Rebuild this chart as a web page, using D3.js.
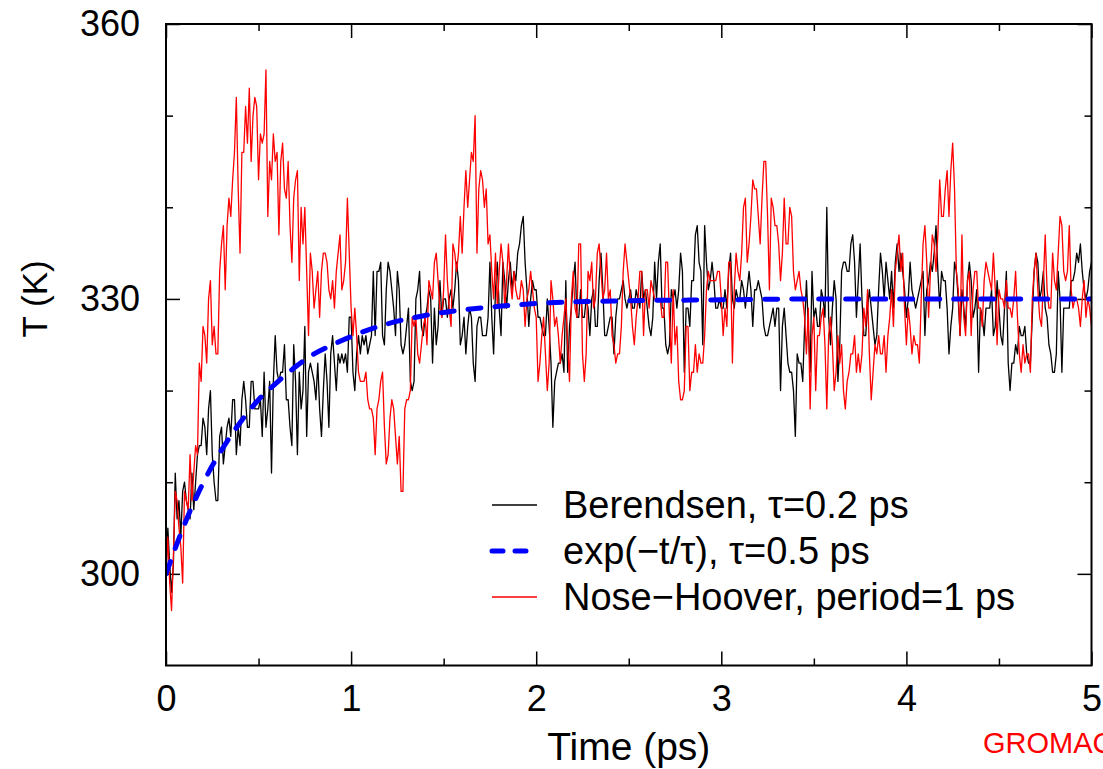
<!DOCTYPE html>
<html>
<head>
<meta charset="utf-8">
<script src="https://cdn.jsdelivr.net/npm/d3@7"></script>
<style>
  body { margin: 0; background: #fff; }
  svg text { font-family: "Liberation Sans", Arial, Helvetica, sans-serif; fill: #000; }
</style>
</head>
<body>
<div id="chart"></div>
<script>
// Temperature traces, one sample every 0.01 ps
var dt = 0.01;

var berendsen = [
    300,305,301,298,301,311,306,308,304,309,
    310,308,307,306,311,307,310,313,314,314,
    317,316,313,318,320,313,310,308,308,315,
    316,312,314,316,317,315,319,319,313,316,
    314,319,321,319,316,316,321,321,318,318,
    318,319,315,322,316,318,321,311,321,326,
    322,321,322,322,325,319,319,316,314,325,
    321,313,322,318,320,327,315,322,323,322,
    321,319,323,318,315,320,324,321,316,324,
    326,323,320,324,323,324,323,324,322,328,
    328,322,320,324,326,324,326,325,326,324,
    325,326,333,326,333,333,334,326,325,331,
    334,333,331,329,326,333,331,325,324,325,
    327,329,321,320,321,330,331,333,327,326,
    328,329,331,330,323,329,325,327,332,328,
    330,330,328,330,331,329,331,334,332,325,
    326,328,324,327,329,328,323,321,327,328,
    328,326,326,326,328,334,328,324,331,334,
    329,326,334,332,329,332,334,331,333,332,
    335,336,338,339,334,331,327,330,332,331,
    331,328,328,327,326,326,330,327,323,316,
    321,322,323,323,324,322,332,322,327,329,
    332,334,328,328,331,328,328,330,329,326,
    330,331,327,327,332,335,331,326,326,327,
    328,328,324,328,330,330,331,332,330,329,
    330,331,329,329,331,330,329,333,330,331,
    329,327,326,328,334,330,334,336,329,329,
    325,324,325,331,330,331,329,331,335,333,
    322,329,329,327,332,332,337,338,334,333,
    325,338,334,331,332,334,332,329,329,330,
    329,329,331,329,333,335,330,329,331,330,
    330,332,331,329,331,333,331,327,331,331,
    332,331,330,327,326,326,327,328,329,327,
    329,329,320,327,329,326,323,322,322,320,
    315,324,323,323,321,327,332,327,322,333,
    328,329,327,327,331,330,328,340,328,325,
    329,332,330,321,325,333,334,334,333,333,
    336,337,334,328,332,336,330,326,326,329,
    331,329,327,325,326,331,335,333,330,334,
    332,330,333,329,334,336,333,335,333,331,
    328,330,334,331,330,329,330,331,332,333,
    326,331,332,334,333,335,338,333,329,333,
    332,332,329,324,327,329,334,333,330,326,
    331,329,327,332,334,332,328,329,331,322,
    329,328,326,329,329,329,331,326,327,332,
    329,326,325,329,333,323,320,323,323,325,
    324,327,326,326,327,324,323,323,328,333,
    335,334,330,331,333,329,328,325,324,322,
    322,324,333,330,322,329,329,329,329,332,
    332,333,335,334,336,333,331,330,331,333,
    334
];

var noseHoover = [
    300,304,299,296,302,309,308,305,303,299,
    309,308,307,313,308,311,314,313,323,321,
    327,326,323,330,332,325,327,324,324,333,
    336,338,331,338,341,339,343,346,352,342,
    335,346,346,351,347,353,345,350,352,351,
    343,348,347,348,355,339,345,343,348,345,
    346,337,345,347,342,341,345,338,334,341,
    343,344,332,340,336,340,333,326,335,333,
    329,331,333,328,333,335,335,334,331,330,
    332,329,333,335,337,331,332,334,341,335,
    329,326,329,326,322,321,321,321,322,319,
    318,318,317,313,318,319,321,322,316,312,
    313,317,319,318,315,312,315,309,309,318,
    319,319,320,328,327,328,324,323,325,327,
    328,325,332,331,330,334,335,332,329,328,
    331,337,332,329,327,336,335,333,335,339,
    335,340,344,340,343,346,345,350,335,342,
    344,343,340,342,336,337,333,330,335,329,
    333,336,334,329,332,336,332,330,333,331,
    330,330,332,331,327,330,331,333,331,329,
    328,321,323,326,328,324,320,323,332,330,
    327,328,326,323,326,328,330,325,321,330,
    333,329,328,336,336,324,321,324,333,332,
    334,329,330,335,336,333,330,331,335,330,
    331,326,325,323,324,324,327,333,336,334,
    332,330,327,325,328,330,333,333,326,331,
    331,329,332,331,330,330,330,330,328,328,
    334,334,328,323,331,325,327,321,319,319,
    320,327,327,320,322,322,325,322,324,323,
    323,326,331,333,332,332,332,332,333,333,
    330,326,329,327,334,334,323,331,335,333,
    332,335,340,341,334,336,339,343,342,342,
    339,336,341,345,345,339,331,341,340,338,
    338,336,332,335,341,336,336,340,339,333,
    331,332,333,331,330,328,324,329,318,326,
    328,320,326,326,328,329,325,318,326,328,
    325,320,322,326,323,325,320,318,321,322,
    324,324,326,322,324,322,324,329,327,331,
    324,319,322,325,324,326,324,324,326,322,
    326,328,331,327,333,335,337,333,335,329,
    325,329,327,324,326,325,325,323,330,336,
    338,334,328,333,337,336,333,337,343,339,
    339,342,344,339,344,347,342,333,331,326,
    337,328,326,332,333,326,331,333,333,329,
    329,327,332,334,333,332,331,335,331,325,
    331,330,330,329,332,329,329,328,330,333,
    328,324,322,325,323,324,324,322,330,333,
    335,331,328,327,332,337,331,329,329,335,
    332,331,335,339,338,333,332,333,338,331,
    329,330,330,329,327,330,332,328,330,329,
    327
];

// exp(-t/tau) reference curve, read at a few times
var expTime = [0, 0.1, 0.2, 0.3, 0.4, 0.5, 0.6, 0.7, 0.8, 0.9, 1.0, 1.2, 1.4, 1.6, 1.8, 2.0, 2.5, 3.0, 3.5, 4.0, 4.5, 5.0];
var expTemp = [300, 305.4, 309.9, 313.5, 316.5, 319.0, 320.9, 322.6, 324.0, 325.0, 325.9, 327.3, 328.2, 328.8, 329.2, 329.5, 329.8, 329.9, 330, 330, 330, 330];

var xMajor = [0, 1, 2, 3, 4, 5];
var xMinor = [0.5, 1.5, 2.5, 3.5, 4.5];
var yMajor = [300, 330, 360];
var yMinor = [310, 320, 340, 350];

var legendLabels = ["Berendsen, \u03c4=0.2 ps", "exp(\u2212t/\u03c4), \u03c4=0.5 ps", "Nose\u2212Hoover, period=1 ps"];

// drawing area
var W = 1103, H = 769;
var margin = {top: 24, right: 11.5, bottom: 103.5, left: 166};
var width = W - margin.left - margin.right;
var height = H - margin.top - margin.bottom;

var svg = d3.select("#chart").append("svg")
    .attr("width", W)
    .attr("height", H);

var g = svg.append("g")
    .attr("transform", "translate(" + margin.left + "," + margin.top + ")");

var x = d3.scaleLinear().domain([0, 5]).range([0, width]);
var y = d3.scaleLinear().domain([290, 360]).range([height, 0]);

g.append("clipPath").attr("id", "plotclip")
    .append("rect").attr("width", width).attr("height", height);

// ticks, all pointing inward
function styleAxis(sel) {
    sel.select(".domain").remove();
    sel.selectAll(".tick line").attr("stroke", "#000").attr("stroke-width", 1.5);
    sel.selectAll(".tick text").style("font-size", "36px").attr("fill", "#000");
}

g.append("g").attr("transform", "translate(0," + height + ")")
    .call(d3.axisBottom(x).tickValues(xMajor).tickSize(-14).tickPadding(20).tickFormat(d3.format("d")))
    .call(styleAxis);
g.append("g").attr("transform", "translate(0," + height + ")")
    .call(d3.axisBottom(x).tickValues(xMinor).tickSize(-7).tickFormat(""))
    .call(styleAxis);
g.append("g")
    .call(d3.axisTop(x).tickValues(xMajor).tickSize(-14).tickFormat(""))
    .call(styleAxis);
g.append("g")
    .call(d3.axisTop(x).tickValues(xMinor).tickSize(-7).tickFormat(""))
    .call(styleAxis);

g.append("g")
    .call(d3.axisLeft(y).tickValues(yMajor).tickSize(-14).tickPadding(26).tickFormat(d3.format("d")))
    .call(styleAxis);
g.append("g")
    .call(d3.axisLeft(y).tickValues(yMinor).tickSize(-7).tickFormat(""))
    .call(styleAxis);
g.append("g").attr("transform", "translate(" + width + ",0)")
    .call(d3.axisRight(y).tickValues(yMajor).tickSize(-14).tickFormat(""))
    .call(styleAxis);
g.append("g").attr("transform", "translate(" + width + ",0)")
    .call(d3.axisRight(y).tickValues(yMinor).tickSize(-7).tickFormat(""))
    .call(styleAxis);

// series
var line = d3.line()
    .x(function (d, i) { return x(i * dt); })
    .y(function (d) { return y(d); });

var plot = g.append("g").attr("clip-path", "url(#plotclip)");

plot.append("path")
    .datum(berendsen)
    .attr("fill", "none")
    .attr("stroke", "#000")
    .attr("stroke-width", 1.3)
    .attr("stroke-linejoin", "round")
    .attr("d", line);

plot.append("path")
    .datum(noseHoover)
    .attr("fill", "none")
    .attr("stroke", "#ff0000")
    .attr("stroke-width", 1.3)
    .attr("stroke-linejoin", "round")
    .attr("d", line);

var expLine = d3.line()
    .curve(d3.curveMonotoneX)
    .x(function (d, i) { return x(expTime[i]); })
    .y(function (d) { return y(d); });

plot.append("path")
    .datum(expTemp)
    .attr("fill", "none")
    .attr("stroke", "#0000ff")
    .attr("stroke-width", 5)
    .attr("stroke-linecap", "round")
    .attr("stroke-dasharray", "13,14")
    .attr("d", expLine);

// frame
g.append("rect")
    .attr("width", width)
    .attr("height", height)
    .attr("fill", "none")
    .attr("stroke", "#000")
    .attr("stroke-width", 2);

// legend
var legendStyles = [
    {stroke: "#000", width: 1.3, dash: null, cap: "butt"},
    {stroke: "#0000ff", width: 5, dash: "11,12", cap: "round"},
    {stroke: "#ff0000", width: 1.3, dash: null, cap: "butt"}
];
var legendY = [505, 551, 597];

var legend = svg.append("g").attr("class", "legend");
legendLabels.forEach(function (label, i) {
    var s = legendStyles[i];
    legend.append("line")
        .attr("x1", 492).attr("x2", 537)
        .attr("y1", legendY[i]).attr("y2", legendY[i])
        .attr("stroke", s.stroke)
        .attr("stroke-width", s.width)
        .attr("stroke-linecap", s.cap)
        .attr("stroke-dasharray", s.dash);
    legend.append("text")
        .attr("x", 563)
        .attr("y", legendY[i] + 13)
        .style("font-size", "38px")
        .text(label);
});

// axis titles
svg.append("text")
    .attr("x", margin.left + x(2.5))
    .attr("y", 760)
    .attr("text-anchor", "middle")
    .style("font-size", "39px")
    .text("Time (ps)");

svg.append("text")
    .attr("transform", "translate(47," + (margin.top + y(330)) + ") rotate(-90)")
    .attr("text-anchor", "middle")
    .style("font-size", "35px")
    .text("T (K)");

svg.append("text")
    .attr("x", 983)
    .attr("y", 753)
    .style("font-size", "29px")
    .style("fill", "#ff0000")
    .text("GROMACS");
</script>
</body>
</html>
